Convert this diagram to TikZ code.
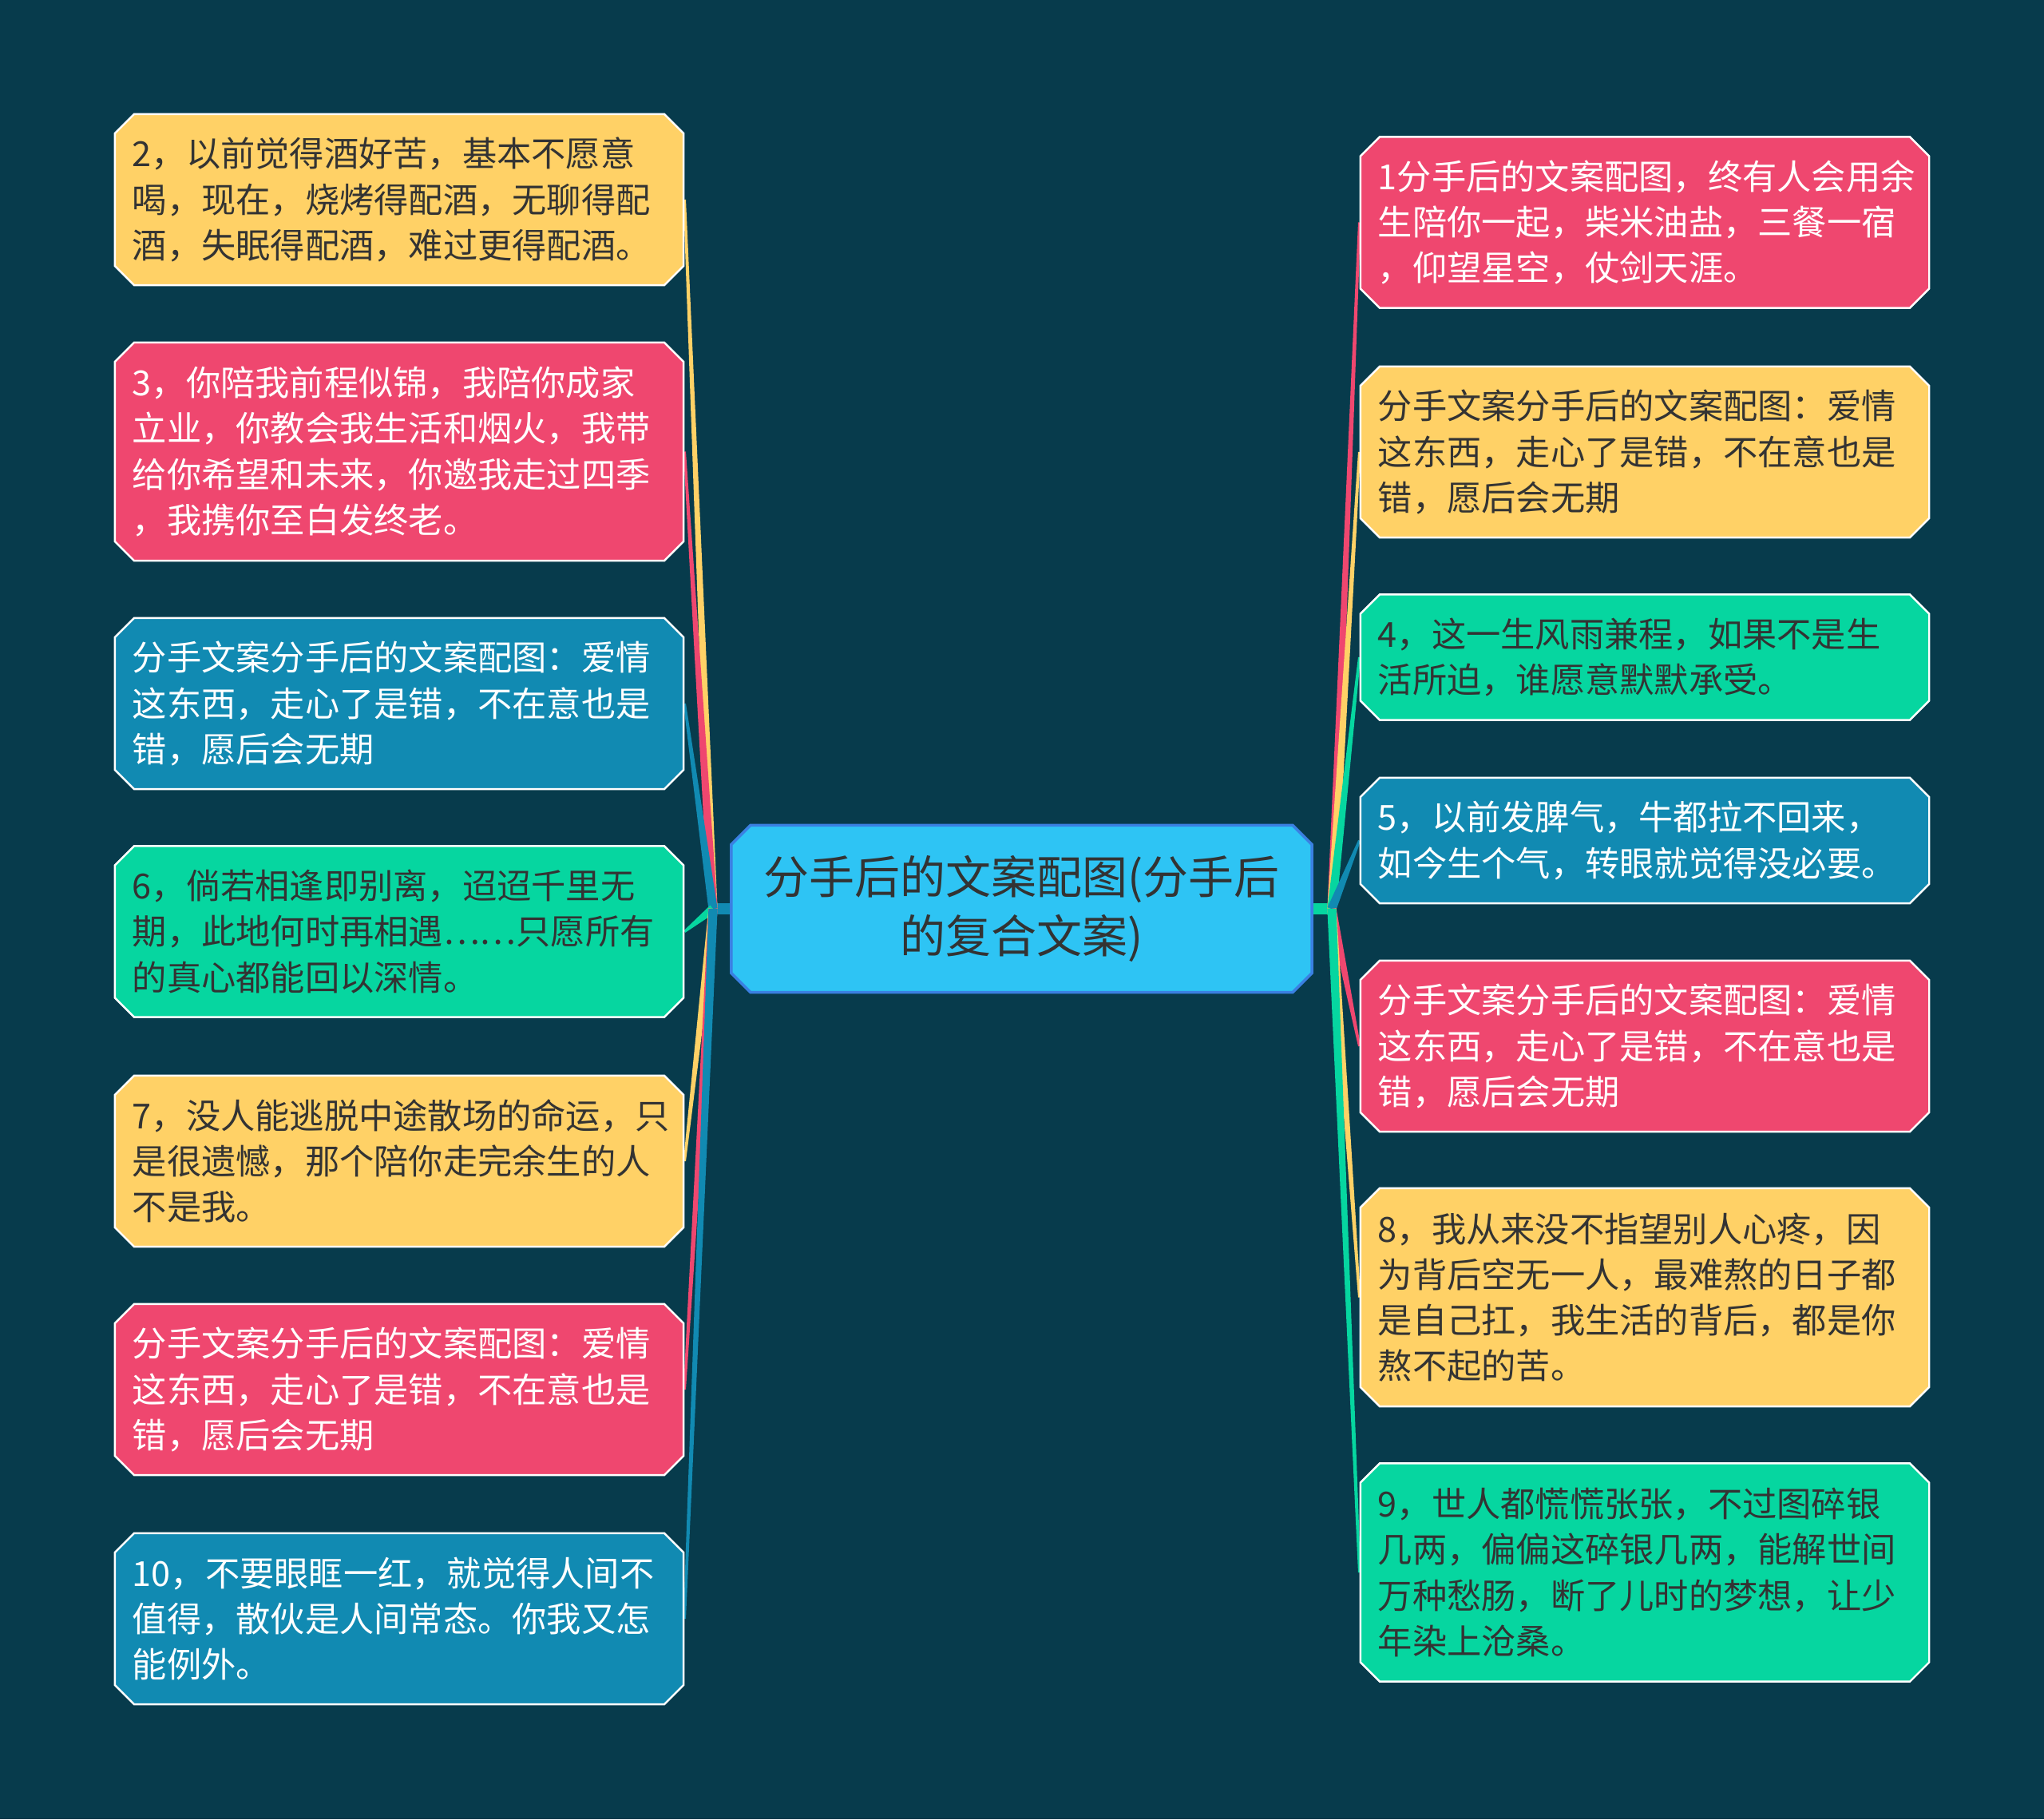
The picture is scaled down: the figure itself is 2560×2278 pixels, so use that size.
\documentclass[tikz,border=0pt]{standalone}
\usepackage{fontspec}
\newfontfamily\cjk{Noto Sans CJK SC}
\usepackage{tikz}
\usetikzlibrary{shapes.misc,calc,backgrounds}
\definecolor{cbg}{HTML}{073B4C}
\definecolor{cred}{HTML}{EF476F}
\definecolor{cyel}{HTML}{FFD166}
\definecolor{cgrn}{HTML}{06D6A0}
\definecolor{cblu}{HTML}{118AB2}
\definecolor{croot}{HTML}{2EC4F4}
\definecolor{crootline}{HTML}{3A80E2}
\definecolor{cdark}{HTML}{333333}

% tapered branch from junction #1 to box anchor #2
\newcommand{\branch}[3]{%
  \fill[#3] ($(#1)!1.6pt!90:(#2)$) -- ($(#2)!0.45pt!-90:(#1)$)
    -- ($(#2)!0.45pt!90:(#1)$) -- ($(#1)!1.6pt!-90:(#2)$) -- cycle;}

\tikzset{
  leaf/.style={chamfered rectangle, chamfered rectangle xsep=0.14cm,
    draw=white, line width=0.7pt, inner xsep=0.08cm, inner ysep=0pt,
    minimum width=7.12cm, text width=6.68cm, align=left,
    font=\cjk\fontsize{12.3pt}{16.25pt}\selectfont},
  h2/.style={minimum height=1.57cm},
  h3/.style={minimum height=2.14cm},
  h4/.style={minimum height=2.73cm},
  onyel/.style={fill=cyel, text=cdark},
  ongrn/.style={fill=cgrn, text=cdark},
  onred/.style={fill=cred, text=white},
  onblu/.style={fill=cblu, text=white},
}

\begin{document}
\begin{tikzpicture}[x=0.01cm, y=-0.01cm]
  \useasboundingbox (0,0) rectangle (2560,2278);

  \node[chamfered rectangle, chamfered rectangle xsep=0.14cm, fill=croot,
    draw=crootline, line width=1pt, minimum width=7.27cm, minimum height=2.09cm,
    align=center, text=cdark, font=\cjk\fontsize{16.2pt}{20.9pt}\selectfont]
    (root) at (1279.5,1138) {分手后的文案配图(分手后\\的复合文案)};
  \coordinate (jl) at (893,1138);
  \coordinate (jr) at (1668,1138);

  % left column
  \node[leaf,h3,onyel] (l1) at (500,250) {2，以前觉得酒好苦，基本不愿意\\喝，现在，烧烤得配酒，无聊得配\\酒，失眠得配酒，难过更得配酒。};
  \node[leaf,h4,onred] (l2) at (500,565.5) {3，你陪我前程似锦，我陪你成家\\立业，你教会我生活和烟火，我带\\给你希望和未来，你邀我走过四季\\，我携你至白发终老。};
  \node[leaf,h3,onblu] (l3) at (500,881) {分手文案分手后的文案配图：爱情\\这东西，走心了是错，不在意也是\\错，愿后会无期};
  \node[leaf,h3,ongrn] (l4) at (500,1166.5) {6，倘若相逢即别离，迢迢千里无\\期，此地何时再相遇……只愿所有\\的真心都能回以深情。};
  \node[leaf,h3,onyel] (l5) at (500,1454) {7，没人能逃脱中途散场的命运，只\\是很遗憾，那个陪你走完余生的人\\不是我。};
  \node[leaf,h3,onred] (l6) at (500,1740) {分手文案分手后的文案配图：爱情\\这东西，走心了是错，不在意也是\\错，愿后会无期};
  \node[leaf,h3,onblu] (l7) at (500,2027) {10，不要眼眶一红，就觉得人间不\\值得，散伙是人间常态。你我又怎\\能例外。};

  % right column
  \node[leaf,h3,onred] (r1) at (2060,278.5) {1分手后的文案配图，终有人会用余\\生陪你一起，柴米油盐，三餐一宿\\，仰望星空，仗剑天涯。};
  \node[leaf,h3,onyel] (r2) at (2060,566) {分手文案分手后的文案配图：爱情\\这东西，走心了是错，不在意也是\\错，愿后会无期};
  \node[leaf,h2,ongrn] (r3) at (2060,823) {4，这一生风雨兼程，如果不是生\\活所迫，谁愿意默默承受。};
  \node[leaf,h2,onblu] (r4) at (2060,1052.5) {5，以前发脾气，牛都拉不回来，\\如今生个气，转眼就觉得没必要。};
  \node[leaf,h3,onred] (r5) at (2060,1310) {分手文案分手后的文案配图：爱情\\这东西，走心了是错，不在意也是\\错，愿后会无期};
  \node[leaf,h4,onyel] (r6) at (2060,1624.5) {8，我从来没不指望别人心疼，因\\为背后空无一人，最难熬的日子都\\是自己扛，我生活的背后，都是你\\熬不起的苦。};
  \node[leaf,h4,ongrn] (r7) at (2060,1969) {9，世人都慌慌张张，不过图碎银\\几两，偏偏这碎银几两，能解世间\\万种愁肠，断了儿时的梦想，让少\\年染上沧桑。};

  \begin{scope}[on background layer]
    \fill[cbg] (0,0) rectangle (2560,2278);
    \draw[cblu, line width=4.2pt] (root.west) -- (jl);
    \draw[cgrn, line width=4.2pt] (root.east) -- (jr);
    \branch{jl}{l1.east}{cyel}
    \branch{jl}{l2.east}{cred}
    \branch{jl}{l3.east}{cblu}
    \branch{jl}{l4.east}{cgrn}
    \branch{jl}{l5.east}{cyel}
    \branch{jl}{l6.east}{cred}
    \branch{jl}{l7.east}{cblu}
    \branch{jr}{r1.west}{cred}
    \branch{jr}{r2.west}{cyel}
    \branch{jr}{r3.west}{cgrn}
    \branch{jr}{r4.west}{cblu}
    \branch{jr}{r5.west}{cred}
    \branch{jr}{r6.west}{cyel}
    \branch{jr}{r7.west}{cgrn}
  \end{scope}
\end{tikzpicture}
\end{document}
